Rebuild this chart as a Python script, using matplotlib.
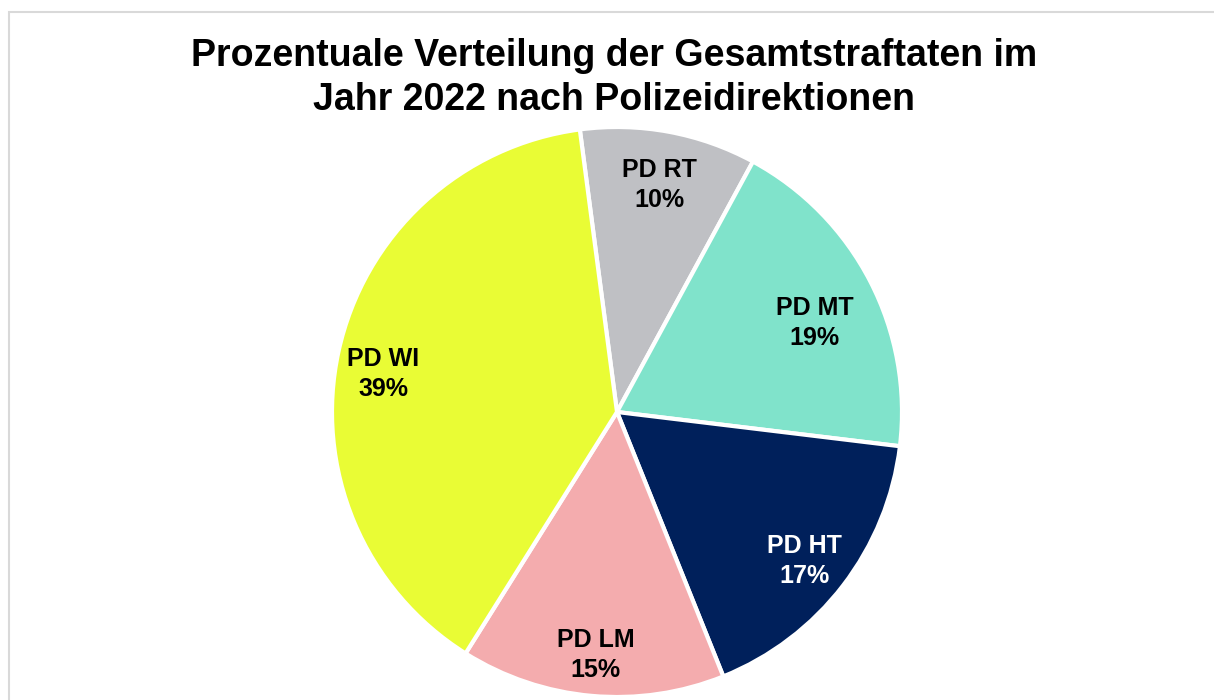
import matplotlib
matplotlib.use("Agg")
import matplotlib.pyplot as plt
from matplotlib.patches import Rectangle
import numpy as np

labels = ["PD RT", "PD MT", "PD HT", "PD LM", "PD WI"]
values = [10, 19, 17, 15, 39]
colors = ["#BFC0C4", "#80E3CB", "#00205B", "#F4ACAE", "#E9FC35"]
text_colors = ["black", "black", "white", "black", "black"]
label_radius = [0.81, 0.76, 0.84, 0.855, 0.83]
label_shift_deg = [0, 3, 1, 0, -3]

plt.rcParams['font.family'] = ['Liberation Sans', 'DejaVu Sans']

W, H = 1214, 700
fig = plt.figure(figsize=(W / 100, H / 100), dpi=100)

# frame
fig.patches.append(Rectangle((9 / W, -0.1), 1.2, (H - 12) / H + 0.1, transform=fig.transFigure,
                             fill=False, edgecolor="#D9D9D9", linewidth=1.5))

cx, cy, r = 617, 412, 285
ax = fig.add_axes([(cx - r) / W, (H - cy - r) / H, 2 * r / W, 2 * r / H])
wedges, _ = ax.pie(values, colors=colors, startangle=97.5, counterclock=False,
                   wedgeprops=dict(edgecolor="white", linewidth=3), radius=1)
ax.set_xlim(-1, 1)
ax.set_ylim(-1, 1)
ax.set_aspect("equal")
ax.axis("off")

for w, lab, v, tc, lr, sh in zip(wedges, labels, values, text_colors, label_radius, label_shift_deg):
    ang = np.deg2rad((w.theta1 + w.theta2) / 2 - sh)
    x, y = lr * np.cos(ang), lr * np.sin(ang)
    ax.text(x, y, f"{lab}\n{v}%", ha="center", va="center", fontsize=18,
            fontweight="bold", color=tc, linespacing=1.3)

fig.text(614 / W, 1 - 78 / H, "Prozentuale Verteilung der Gesamtstraftaten im\nJahr 2022 nach Polizeidirektionen",
         ha="center", va="center", fontsize=27, fontweight="bold", linespacing=1.28)

fig.savefig("out.png", dpi=100)
